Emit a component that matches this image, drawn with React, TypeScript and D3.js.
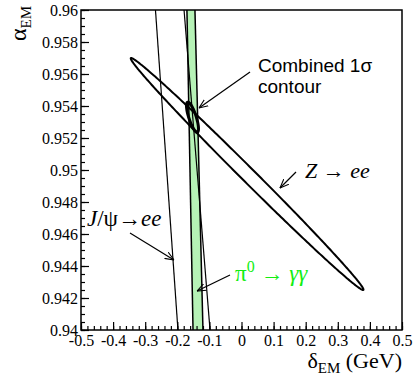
import React, { useEffect, useRef } from 'react'
import * as d3 from 'd3'

// Tick values and labels
const xTicks = [-0.5, -0.4, -0.3, -0.2, -0.1, 0, 0.1, 0.2, 0.3, 0.4, 0.5]
const xTickLabels = ['-0.5', '-0.4', '-0.3', '-0.2', '-0.1', '0', '0.1', '0.2', '0.3', '0.4', '0.5']
const yTicks = [0.94, 0.942, 0.944, 0.946, 0.948, 0.95, 0.952, 0.954, 0.956, 0.958, 0.96]
const yTickLabels = ['0.94', '0.942', '0.944', '0.946', '0.948', '0.95', '0.952', '0.954', '0.956', '0.958', '0.96']

// 1 sigma ellipses: [centre x, centre y, half range x, half range y, phase]
const zEllipse = [0.0175, 0.94975, 0.3625, 0.00725, 0.085]
const combinedEllipse = [-0.1527, 0.9533, 0.0187, 0.00094, 0.7]

// band edges: [x at alpha=0.96, x at alpha=0.94]
const jpsiEdges = [[-0.268, -0.198], [-0.179, -0.098]]
const pi0Edges = [[-0.17, -0.151], [-0.145, -0.12]]

// annotations: text position and arrow [from x, from y, to x, to y], in data units
const combinedLabelPos = [0.0514, 0.956125]
const combinedArrow = [0.0265, 0.95613, -0.1324, 0.95388]
const zLabelPos = [0.1978, 0.9495]
const zArrow = [0.1698, 0.949875, 0.1199, 0.948875]
const jpsiLabelPos = [-0.4813, 0.9465]
const jpsiArrow = [-0.3474, 0.946063, -0.2103, 0.944375]
const pi0LabelPos = [-0.0202, 0.943063]
const pi0Arrow = [-0.0358, 0.943438, -0.1386, 0.942438]

const svgWidth = 414
const svgHeight = 381
const margin = { top: 10, right: 12, bottom: 51, left: 81 }
const serif = '"Liberation Serif", "Times New Roman", serif'
const sans = '"Liberation Sans", Arial, sans-serif'

function ellipsePoints(e: number[]) {
  const [cx, cy, sx, sy, phi] = e
  return d3.range(0, Math.PI * 2, Math.PI / 180).map(t => [cx + sx * Math.cos(t), cy - sy * Math.cos(t + phi)])
}

function App() {
  const ref = useRef<SVGSVGElement>(null)

  useEffect(() => {
    document.body.style.margin = '0'
    const width = svgWidth - margin.left - margin.right
    const height = svgHeight - margin.top - margin.bottom
    const svg = d3.select(ref.current)
    svg.selectAll('*').remove()

    const x = d3.scaleLinear().domain([-0.5, 0.5]).range([0, width])
    const y = d3.scaleLinear().domain([0.94, 0.96]).range([height, 0])

    const defs = svg.append('defs')
    defs.append('clipPath').attr('id', 'plot-clip')
      .append('rect').attr('width', width).attr('height', height)
    defs.append('marker')
      .attr('id', 'arrow')
      .attr('viewBox', '0 0 10 10')
      .attr('refX', 10).attr('refY', 5)
      .attr('markerWidth', 9).attr('markerHeight', 9)
      .attr('markerUnits', 'userSpaceOnUse')
      .attr('orient', 'auto')
      .append('path')
      .attr('d', 'M0,1 L10,5 L0,9')
      .attr('fill', 'none').attr('stroke', '#000').attr('stroke-width', 1.2)

    const g = svg.append('g').attr('transform', `translate(${margin.left}, ${margin.top})`)
    const plot = g.append('g').attr('clip-path', 'url(#plot-clip)')

    // pi0 band
    const [pl, pr] = pi0Edges
    plot.append('path')
      .attr('d', d3.line()([[x(pl[0]), y(0.96)], [x(pr[0]), y(0.96)], [x(pr[1]), y(0.94)], [x(pl[1]), y(0.94)]]) + 'Z')
      .attr('fill', '#b6f2b6')
    pi0Edges.forEach(e => {
      plot.append('line')
        .attr('x1', x(e[0])).attr('y1', y(0.96)).attr('x2', x(e[1])).attr('y2', y(0.94))
        .attr('stroke', '#000').attr('stroke-width', 1.5)
    })

    // J/psi band
    jpsiEdges.forEach(e => {
      plot.append('line')
        .attr('x1', x(e[0])).attr('y1', y(0.96)).attr('x2', x(e[1])).attr('y2', y(0.94))
        .attr('stroke', '#000').attr('stroke-width', 1.2)
    })

    const line = d3.line<number[]>().x(d => x(d[0])).y(d => y(d[1])).curve(d3.curveLinearClosed)
    plot.append('path').attr('d', line(ellipsePoints(zEllipse)))
      .attr('fill', 'none').attr('stroke', '#000').attr('stroke-width', 2)
    plot.append('path').attr('d', line(ellipsePoints(combinedEllipse)))
      .attr('fill', 'none').attr('stroke', '#000').attr('stroke-width', 3)

    // frame
    g.append('rect').attr('width', width).attr('height', height)
      .attr('fill', 'none').attr('stroke', '#000').attr('stroke-width', 1.5)

    // axes
    const xMinor = d3.range(-0.5, 0.5001, 0.02)
    const yMinor = d3.range(0.94, 0.96001, 0.0005)
    const styleAxis = (a: any) => {
      a.attr('font-family', serif).attr('font-size', 16)
      a.select('.domain').remove()
      a.selectAll('line').attr('stroke', '#000').attr('stroke-width', 1.2)
      a.selectAll('text').attr('fill', '#000').style('font-family', serif).style('font-size', '16px')
    }
    g.append('g').attr('transform', `translate(0, ${height})`)
      .call(d3.axisBottom(x).tickValues(xMinor).tickFormat(() => '').tickSize(-4).tickSizeOuter(0))
      .call(styleAxis)
    g.append('g').attr('transform', `translate(0, ${height})`)
      .call(d3.axisBottom(x).tickValues(xTicks).tickFormat((d, i) => xTickLabels[i]).tickSize(-8).tickSizeOuter(0).tickPadding(5))
      .call(styleAxis)
    g.append('g')
      .call(d3.axisLeft(y).tickValues(yMinor).tickFormat(() => '').tickSize(-4).tickSizeOuter(0))
      .call(styleAxis)
    g.append('g')
      .call(d3.axisLeft(y).tickValues(yTicks).tickFormat((d, i) => yTickLabels[i]).tickSize(-8).tickSizeOuter(0).tickPadding(3))
      .call(styleAxis)

    // axis titles
    const xt = svg.append('text')
      .attr('x', svgWidth - 12).attr('y', 368)
      .attr('text-anchor', 'end').attr('font-family', serif).attr('font-size', 22)
    xt.append('tspan').text('δ')
    xt.append('tspan').attr('font-size', 15).attr('dy', 5).text('EM')
    xt.append('tspan').attr('dy', -5).text(' (GeV)')

    const yt = svg.append('text')
      .attr('transform', 'translate(26, 6) rotate(-90)')
      .attr('text-anchor', 'end').attr('font-family', serif).attr('font-size', 24)
    yt.append('tspan').text('α')
    yt.append('tspan').attr('font-size', 15).attr('dy', 5).text('EM')

    // annotations
    const arrow = (a: number[]) => {
      g.append('line')
        .attr('x1', x(a[0])).attr('y1', y(a[1])).attr('x2', x(a[2])).attr('y2', y(a[3]))
        .attr('stroke', '#000').attr('stroke-width', 1.2)
        .attr('marker-end', 'url(#arrow)')
    }
    arrow(combinedArrow)
    arrow(zArrow)
    arrow(jpsiArrow)
    arrow(pi0Arrow)

    const ct = g.append('text').attr('font-family', sans).attr('font-size', 19).attr('fill', '#000')
    ct.append('tspan').attr('x', x(combinedLabelPos[0])).attr('y', y(combinedLabelPos[1])).text('Combined 1σ')
    ct.append('tspan').attr('x', x(combinedLabelPos[0])).attr('dy', 21).text('contour')

    const zt = g.append('text').attr('x', x(zLabelPos[0])).attr('y', y(zLabelPos[1]))
      .attr('font-family', serif).attr('font-size', 22)
    zt.append('tspan').attr('font-style', 'italic').text('Z')
    zt.append('tspan').text(' → ')
    zt.append('tspan').attr('font-style', 'italic').text('ee')

    const jt = g.append('text').attr('x', x(jpsiLabelPos[0])).attr('y', y(jpsiLabelPos[1]))
      .attr('font-family', serif).attr('font-size', 23)
    jt.append('tspan').attr('font-style', 'italic').text('J')
    jt.append('tspan').text('/ψ→')
    jt.append('tspan').attr('font-style', 'italic').text('ee')

    const pt = g.append('text').attr('x', x(pi0LabelPos[0])).attr('y', y(pi0LabelPos[1]))
      .attr('font-family', serif).attr('font-size', 23).attr('fill', '#11ee11')
    pt.append('tspan').text('π')
    pt.append('tspan').attr('font-size', 16).attr('dy', -9).text('0')
    pt.append('tspan').attr('dy', 9).text(' → ')
    pt.append('tspan').attr('font-style', 'italic').text('γγ')
  }, [])

  return <svg ref={ref} width={svgWidth} height={svgHeight} style={{ display: 'block' }} />
}

export default App
